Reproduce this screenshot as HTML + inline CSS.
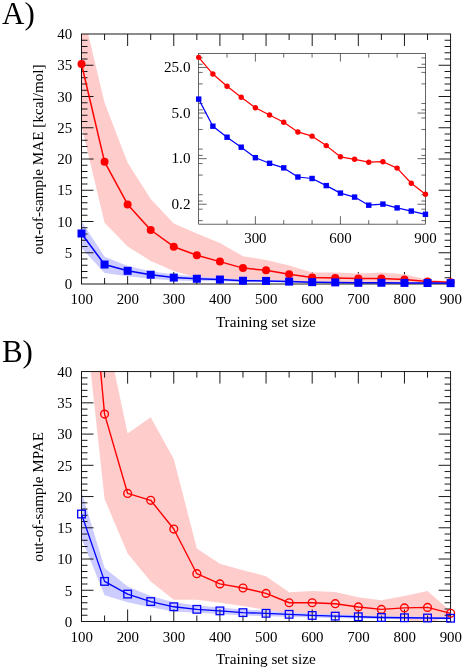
<!DOCTYPE html>
<html><head><meta charset="utf-8"><title>Figure</title>
<style>html,body{margin:0;padding:0;background:#fff;}svg{display:block;will-change:transform;}text{font-family:"Liberation Serif",serif;fill:#000;}</style>
</head><body>
<svg width="464" height="670" viewBox="0 0 464 670">
<rect width="464" height="670" fill="#fff"/>
<defs><clipPath id="ca"><rect x="81.50" y="34.00" width="369.10" height="250.00"/></clipPath>
<clipPath id="cb"><rect x="81.50" y="371.60" width="369.10" height="249.90"/></clipPath></defs>
<text x="2.1" y="24.4" font-size="31">A)</text>
<line x1="104.57" y1="284.00" x2="104.57" y2="278.00" stroke="#000" stroke-width="0.9"/><line x1="104.57" y1="34.00" x2="104.57" y2="40.00" stroke="#000" stroke-width="0.9"/><line x1="127.64" y1="284.00" x2="127.64" y2="272.00" stroke="#000" stroke-width="0.9"/><line x1="127.64" y1="34.00" x2="127.64" y2="46.00" stroke="#000" stroke-width="0.9"/><line x1="150.71" y1="284.00" x2="150.71" y2="278.00" stroke="#000" stroke-width="0.9"/><line x1="150.71" y1="34.00" x2="150.71" y2="40.00" stroke="#000" stroke-width="0.9"/><line x1="173.78" y1="284.00" x2="173.78" y2="272.00" stroke="#000" stroke-width="0.9"/><line x1="173.78" y1="34.00" x2="173.78" y2="46.00" stroke="#000" stroke-width="0.9"/><line x1="196.84" y1="284.00" x2="196.84" y2="278.00" stroke="#000" stroke-width="0.9"/><line x1="196.84" y1="34.00" x2="196.84" y2="40.00" stroke="#000" stroke-width="0.9"/><line x1="219.91" y1="284.00" x2="219.91" y2="272.00" stroke="#000" stroke-width="0.9"/><line x1="219.91" y1="34.00" x2="219.91" y2="46.00" stroke="#000" stroke-width="0.9"/><line x1="242.98" y1="284.00" x2="242.98" y2="278.00" stroke="#000" stroke-width="0.9"/><line x1="242.98" y1="34.00" x2="242.98" y2="40.00" stroke="#000" stroke-width="0.9"/><line x1="266.05" y1="284.00" x2="266.05" y2="272.00" stroke="#000" stroke-width="0.9"/><line x1="266.05" y1="34.00" x2="266.05" y2="46.00" stroke="#000" stroke-width="0.9"/><line x1="289.12" y1="284.00" x2="289.12" y2="278.00" stroke="#000" stroke-width="0.9"/><line x1="289.12" y1="34.00" x2="289.12" y2="40.00" stroke="#000" stroke-width="0.9"/><line x1="312.19" y1="284.00" x2="312.19" y2="272.00" stroke="#000" stroke-width="0.9"/><line x1="312.19" y1="34.00" x2="312.19" y2="46.00" stroke="#000" stroke-width="0.9"/><line x1="335.26" y1="284.00" x2="335.26" y2="278.00" stroke="#000" stroke-width="0.9"/><line x1="335.26" y1="34.00" x2="335.26" y2="40.00" stroke="#000" stroke-width="0.9"/><line x1="358.32" y1="284.00" x2="358.32" y2="272.00" stroke="#000" stroke-width="0.9"/><line x1="358.32" y1="34.00" x2="358.32" y2="46.00" stroke="#000" stroke-width="0.9"/><line x1="381.39" y1="284.00" x2="381.39" y2="278.00" stroke="#000" stroke-width="0.9"/><line x1="381.39" y1="34.00" x2="381.39" y2="40.00" stroke="#000" stroke-width="0.9"/><line x1="404.46" y1="284.00" x2="404.46" y2="272.00" stroke="#000" stroke-width="0.9"/><line x1="404.46" y1="34.00" x2="404.46" y2="46.00" stroke="#000" stroke-width="0.9"/><line x1="427.53" y1="284.00" x2="427.53" y2="278.00" stroke="#000" stroke-width="0.9"/><line x1="427.53" y1="34.00" x2="427.53" y2="40.00" stroke="#000" stroke-width="0.9"/>
<g clip-path="url(#ca)">
<polygon fill="#ffcccc" points="81.50,5.88 104.57,102.75 127.64,162.75 150.71,199.00 173.78,223.38 196.84,233.38 219.91,243.00 242.98,256.19 266.05,260.06 289.12,265.56 312.19,272.38 335.26,272.38 358.32,273.38 381.39,272.38 404.46,274.31 427.53,279.62 450.60,281.19 450.60,283.25 427.53,283.19 404.46,284.00 381.39,284.00 358.32,283.69 335.26,283.50 312.19,282.38 289.12,282.75 266.05,280.56 242.98,280.06 219.91,280.25 196.84,277.44 173.78,271.06 150.71,260.88 127.64,246.50 104.57,222.75 81.50,125.88"/>
<polygon fill="#ccccff" points="81.50,221.19 104.57,256.69 127.64,266.00 150.71,271.19 173.78,274.62 196.84,276.50 219.91,277.75 242.98,279.31 266.05,279.62 289.12,280.56 312.19,281.38 335.26,281.75 358.32,282.25 381.39,282.25 404.46,282.44 427.53,282.62 450.60,282.75 450.60,283.50 427.53,283.44 404.46,283.38 381.39,283.25 358.32,283.38 335.26,283.06 312.19,282.94 289.12,282.62 266.05,282.25 242.98,282.19 219.91,281.31 196.84,281.00 173.78,280.56 150.71,278.81 127.64,276.19 104.57,272.88 81.50,248.06"/>
</g>
<line x1="81.50" y1="277.75" x2="87.50" y2="277.75" stroke="#000" stroke-width="0.9"/><line x1="450.60" y1="277.75" x2="444.60" y2="277.75" stroke="#000" stroke-width="0.9"/><line x1="81.50" y1="271.50" x2="87.50" y2="271.50" stroke="#000" stroke-width="0.9"/><line x1="450.60" y1="271.50" x2="444.60" y2="271.50" stroke="#000" stroke-width="0.9"/><line x1="81.50" y1="265.25" x2="87.50" y2="265.25" stroke="#000" stroke-width="0.9"/><line x1="450.60" y1="265.25" x2="444.60" y2="265.25" stroke="#000" stroke-width="0.9"/><line x1="81.50" y1="259.00" x2="87.50" y2="259.00" stroke="#000" stroke-width="0.9"/><line x1="450.60" y1="259.00" x2="444.60" y2="259.00" stroke="#000" stroke-width="0.9"/><line x1="81.50" y1="252.75" x2="93.50" y2="252.75" stroke="#000" stroke-width="0.9"/><line x1="450.60" y1="252.75" x2="438.60" y2="252.75" stroke="#000" stroke-width="0.9"/><line x1="81.50" y1="246.50" x2="87.50" y2="246.50" stroke="#000" stroke-width="0.9"/><line x1="450.60" y1="246.50" x2="444.60" y2="246.50" stroke="#000" stroke-width="0.9"/><line x1="81.50" y1="240.25" x2="87.50" y2="240.25" stroke="#000" stroke-width="0.9"/><line x1="450.60" y1="240.25" x2="444.60" y2="240.25" stroke="#000" stroke-width="0.9"/><line x1="81.50" y1="234.00" x2="87.50" y2="234.00" stroke="#000" stroke-width="0.9"/><line x1="450.60" y1="234.00" x2="444.60" y2="234.00" stroke="#000" stroke-width="0.9"/><line x1="81.50" y1="227.75" x2="87.50" y2="227.75" stroke="#000" stroke-width="0.9"/><line x1="450.60" y1="227.75" x2="444.60" y2="227.75" stroke="#000" stroke-width="0.9"/><line x1="81.50" y1="221.50" x2="93.50" y2="221.50" stroke="#000" stroke-width="0.9"/><line x1="450.60" y1="221.50" x2="438.60" y2="221.50" stroke="#000" stroke-width="0.9"/><line x1="81.50" y1="215.25" x2="87.50" y2="215.25" stroke="#000" stroke-width="0.9"/><line x1="450.60" y1="215.25" x2="444.60" y2="215.25" stroke="#000" stroke-width="0.9"/><line x1="81.50" y1="209.00" x2="87.50" y2="209.00" stroke="#000" stroke-width="0.9"/><line x1="450.60" y1="209.00" x2="444.60" y2="209.00" stroke="#000" stroke-width="0.9"/><line x1="81.50" y1="202.75" x2="87.50" y2="202.75" stroke="#000" stroke-width="0.9"/><line x1="450.60" y1="202.75" x2="444.60" y2="202.75" stroke="#000" stroke-width="0.9"/><line x1="81.50" y1="196.50" x2="87.50" y2="196.50" stroke="#000" stroke-width="0.9"/><line x1="450.60" y1="196.50" x2="444.60" y2="196.50" stroke="#000" stroke-width="0.9"/><line x1="81.50" y1="190.25" x2="93.50" y2="190.25" stroke="#000" stroke-width="0.9"/><line x1="450.60" y1="190.25" x2="438.60" y2="190.25" stroke="#000" stroke-width="0.9"/><line x1="81.50" y1="184.00" x2="87.50" y2="184.00" stroke="#000" stroke-width="0.9"/><line x1="450.60" y1="184.00" x2="444.60" y2="184.00" stroke="#000" stroke-width="0.9"/><line x1="81.50" y1="177.75" x2="87.50" y2="177.75" stroke="#000" stroke-width="0.9"/><line x1="450.60" y1="177.75" x2="444.60" y2="177.75" stroke="#000" stroke-width="0.9"/><line x1="81.50" y1="171.50" x2="87.50" y2="171.50" stroke="#000" stroke-width="0.9"/><line x1="450.60" y1="171.50" x2="444.60" y2="171.50" stroke="#000" stroke-width="0.9"/><line x1="81.50" y1="165.25" x2="87.50" y2="165.25" stroke="#000" stroke-width="0.9"/><line x1="450.60" y1="165.25" x2="444.60" y2="165.25" stroke="#000" stroke-width="0.9"/><line x1="81.50" y1="159.00" x2="93.50" y2="159.00" stroke="#000" stroke-width="0.9"/><line x1="450.60" y1="159.00" x2="438.60" y2="159.00" stroke="#000" stroke-width="0.9"/><line x1="81.50" y1="152.75" x2="87.50" y2="152.75" stroke="#000" stroke-width="0.9"/><line x1="450.60" y1="152.75" x2="444.60" y2="152.75" stroke="#000" stroke-width="0.9"/><line x1="81.50" y1="146.50" x2="87.50" y2="146.50" stroke="#000" stroke-width="0.9"/><line x1="450.60" y1="146.50" x2="444.60" y2="146.50" stroke="#000" stroke-width="0.9"/><line x1="81.50" y1="140.25" x2="87.50" y2="140.25" stroke="#000" stroke-width="0.9"/><line x1="450.60" y1="140.25" x2="444.60" y2="140.25" stroke="#000" stroke-width="0.9"/><line x1="81.50" y1="134.00" x2="87.50" y2="134.00" stroke="#000" stroke-width="0.9"/><line x1="450.60" y1="134.00" x2="444.60" y2="134.00" stroke="#000" stroke-width="0.9"/><line x1="81.50" y1="127.75" x2="93.50" y2="127.75" stroke="#000" stroke-width="0.9"/><line x1="450.60" y1="127.75" x2="438.60" y2="127.75" stroke="#000" stroke-width="0.9"/><line x1="81.50" y1="121.50" x2="87.50" y2="121.50" stroke="#000" stroke-width="0.9"/><line x1="450.60" y1="121.50" x2="444.60" y2="121.50" stroke="#000" stroke-width="0.9"/><line x1="81.50" y1="115.25" x2="87.50" y2="115.25" stroke="#000" stroke-width="0.9"/><line x1="450.60" y1="115.25" x2="444.60" y2="115.25" stroke="#000" stroke-width="0.9"/><line x1="81.50" y1="109.00" x2="87.50" y2="109.00" stroke="#000" stroke-width="0.9"/><line x1="450.60" y1="109.00" x2="444.60" y2="109.00" stroke="#000" stroke-width="0.9"/><line x1="81.50" y1="102.75" x2="87.50" y2="102.75" stroke="#000" stroke-width="0.9"/><line x1="450.60" y1="102.75" x2="444.60" y2="102.75" stroke="#000" stroke-width="0.9"/><line x1="81.50" y1="96.50" x2="93.50" y2="96.50" stroke="#000" stroke-width="0.9"/><line x1="450.60" y1="96.50" x2="438.60" y2="96.50" stroke="#000" stroke-width="0.9"/><line x1="81.50" y1="90.25" x2="87.50" y2="90.25" stroke="#000" stroke-width="0.9"/><line x1="450.60" y1="90.25" x2="444.60" y2="90.25" stroke="#000" stroke-width="0.9"/><line x1="81.50" y1="84.00" x2="87.50" y2="84.00" stroke="#000" stroke-width="0.9"/><line x1="450.60" y1="84.00" x2="444.60" y2="84.00" stroke="#000" stroke-width="0.9"/><line x1="81.50" y1="77.75" x2="87.50" y2="77.75" stroke="#000" stroke-width="0.9"/><line x1="450.60" y1="77.75" x2="444.60" y2="77.75" stroke="#000" stroke-width="0.9"/><line x1="81.50" y1="71.50" x2="87.50" y2="71.50" stroke="#000" stroke-width="0.9"/><line x1="450.60" y1="71.50" x2="444.60" y2="71.50" stroke="#000" stroke-width="0.9"/><line x1="81.50" y1="65.25" x2="93.50" y2="65.25" stroke="#000" stroke-width="0.9"/><line x1="450.60" y1="65.25" x2="438.60" y2="65.25" stroke="#000" stroke-width="0.9"/><line x1="81.50" y1="59.00" x2="87.50" y2="59.00" stroke="#000" stroke-width="0.9"/><line x1="450.60" y1="59.00" x2="444.60" y2="59.00" stroke="#000" stroke-width="0.9"/><line x1="81.50" y1="52.75" x2="87.50" y2="52.75" stroke="#000" stroke-width="0.9"/><line x1="450.60" y1="52.75" x2="444.60" y2="52.75" stroke="#000" stroke-width="0.9"/><line x1="81.50" y1="46.50" x2="87.50" y2="46.50" stroke="#000" stroke-width="0.9"/><line x1="450.60" y1="46.50" x2="444.60" y2="46.50" stroke="#000" stroke-width="0.9"/><line x1="81.50" y1="40.25" x2="87.50" y2="40.25" stroke="#000" stroke-width="0.9"/><line x1="450.60" y1="40.25" x2="444.60" y2="40.25" stroke="#000" stroke-width="0.9"/><rect x="81.50" y="34.00" width="369.10" height="250.00" fill="none" stroke="#000" stroke-width="0.9"/>
<polyline fill="none" stroke="#ff0000" stroke-width="1.5" stroke-linejoin="round" points="81.50,64.00 104.57,161.81 127.64,204.44 150.71,230.00 173.78,246.69 196.84,255.19 219.91,261.62 242.98,268.12 266.05,270.31 289.12,274.19 312.19,277.39 335.26,277.94 358.32,278.53 381.39,278.44 404.46,279.56 427.53,281.39 450.60,282.23"/>
<circle cx="81.50" cy="64.00" r="4.0" fill="#ff0000"/><circle cx="104.57" cy="161.81" r="4.0" fill="#ff0000"/><circle cx="127.64" cy="204.44" r="4.0" fill="#ff0000"/><circle cx="150.71" cy="230.00" r="4.0" fill="#ff0000"/><circle cx="173.78" cy="246.69" r="4.0" fill="#ff0000"/><circle cx="196.84" cy="255.19" r="4.0" fill="#ff0000"/><circle cx="219.91" cy="261.62" r="4.0" fill="#ff0000"/><circle cx="242.98" cy="268.12" r="4.0" fill="#ff0000"/><circle cx="266.05" cy="270.31" r="4.0" fill="#ff0000"/><circle cx="289.12" cy="274.19" r="4.0" fill="#ff0000"/><circle cx="312.19" cy="277.39" r="4.0" fill="#ff0000"/><circle cx="335.26" cy="277.94" r="4.0" fill="#ff0000"/><circle cx="358.32" cy="278.53" r="4.0" fill="#ff0000"/><circle cx="381.39" cy="278.44" r="4.0" fill="#ff0000"/><circle cx="404.46" cy="279.56" r="4.0" fill="#ff0000"/><circle cx="427.53" cy="281.39" r="4.0" fill="#ff0000"/><circle cx="450.60" cy="282.23" r="4.0" fill="#ff0000"/>
<polyline fill="none" stroke="#0000ff" stroke-width="1.5" stroke-linejoin="round" points="81.50,233.50 104.57,264.56 127.64,270.81 150.71,274.73 173.78,277.59 196.84,278.74 219.91,279.52 242.98,280.76 266.05,280.92 289.12,281.60 312.19,282.16 335.26,282.40 358.32,282.80 381.39,282.75 404.46,282.91 427.53,283.02 450.60,283.13"/>
<rect x="77.50" y="229.50" width="8.0" height="8.0" fill="#0000ff"/><rect x="100.57" y="260.56" width="8.0" height="8.0" fill="#0000ff"/><rect x="123.64" y="266.81" width="8.0" height="8.0" fill="#0000ff"/><rect x="146.71" y="270.73" width="8.0" height="8.0" fill="#0000ff"/><rect x="169.78" y="273.59" width="8.0" height="8.0" fill="#0000ff"/><rect x="192.84" y="274.74" width="8.0" height="8.0" fill="#0000ff"/><rect x="215.91" y="275.52" width="8.0" height="8.0" fill="#0000ff"/><rect x="238.98" y="276.76" width="8.0" height="8.0" fill="#0000ff"/><rect x="262.05" y="276.92" width="8.0" height="8.0" fill="#0000ff"/><rect x="285.12" y="277.60" width="8.0" height="8.0" fill="#0000ff"/><rect x="308.19" y="278.16" width="8.0" height="8.0" fill="#0000ff"/><rect x="331.26" y="278.40" width="8.0" height="8.0" fill="#0000ff"/><rect x="354.32" y="278.80" width="8.0" height="8.0" fill="#0000ff"/><rect x="377.39" y="278.75" width="8.0" height="8.0" fill="#0000ff"/><rect x="400.46" y="278.91" width="8.0" height="8.0" fill="#0000ff"/><rect x="423.53" y="279.02" width="8.0" height="8.0" fill="#0000ff"/><rect x="446.60" y="279.13" width="8.0" height="8.0" fill="#0000ff"/>
<text x="72.2" y="289.00" text-anchor="end" font-size="14.9">0</text><text x="72.2" y="257.75" text-anchor="end" font-size="14.9">5</text><text x="72.2" y="226.50" text-anchor="end" font-size="14.9">10</text><text x="72.2" y="195.25" text-anchor="end" font-size="14.9">15</text><text x="72.2" y="164.00" text-anchor="end" font-size="14.9">20</text><text x="72.2" y="132.75" text-anchor="end" font-size="14.9">25</text><text x="72.2" y="101.50" text-anchor="end" font-size="14.9">30</text><text x="72.2" y="70.25" text-anchor="end" font-size="14.9">35</text><text x="72.2" y="39.00" text-anchor="end" font-size="14.9">40</text><text x="81.70" y="304.20" text-anchor="middle" font-size="14.9">100</text><text x="127.84" y="304.20" text-anchor="middle" font-size="14.9">200</text><text x="173.97" y="304.20" text-anchor="middle" font-size="14.9">300</text><text x="220.11" y="304.20" text-anchor="middle" font-size="14.9">400</text><text x="266.25" y="304.20" text-anchor="middle" font-size="14.9">500</text><text x="312.39" y="304.20" text-anchor="middle" font-size="14.9">600</text><text x="358.52" y="304.20" text-anchor="middle" font-size="14.9">700</text><text x="404.66" y="304.20" text-anchor="middle" font-size="14.9">800</text><text x="450.80" y="304.20" text-anchor="middle" font-size="14.9">900</text><text x="265.8" y="326.60" text-anchor="middle" font-size="15.2">Training set size</text><text transform="translate(43.3,159.30) rotate(-90)" text-anchor="middle" font-size="15.2">out-of-sample MAE [kcal/mol]</text>
<rect x="198.70" y="53.60" width="226.75" height="170.55" fill="#fff"/>
<line x1="198.70" y1="204.24" x2="206.70" y2="204.24" stroke="#000" stroke-width="0.6"/><line x1="425.45" y1="204.24" x2="417.45" y2="204.24" stroke="#000" stroke-width="0.6"/><line x1="198.70" y1="158.65" x2="206.70" y2="158.65" stroke="#000" stroke-width="0.6"/><line x1="425.45" y1="158.65" x2="417.45" y2="158.65" stroke="#000" stroke-width="0.6"/><line x1="198.70" y1="113.06" x2="206.70" y2="113.06" stroke="#000" stroke-width="0.6"/><line x1="425.45" y1="113.06" x2="417.45" y2="113.06" stroke="#000" stroke-width="0.6"/><line x1="198.70" y1="67.46" x2="206.70" y2="67.46" stroke="#000" stroke-width="0.6"/><line x1="425.45" y1="67.46" x2="417.45" y2="67.46" stroke="#000" stroke-width="0.6"/><line x1="198.70" y1="220.67" x2="202.70" y2="220.67" stroke="#000" stroke-width="0.6"/><line x1="425.45" y1="220.67" x2="421.45" y2="220.67" stroke="#000" stroke-width="0.6"/><line x1="198.70" y1="209.18" x2="202.70" y2="209.18" stroke="#000" stroke-width="0.6"/><line x1="425.45" y1="209.18" x2="421.45" y2="209.18" stroke="#000" stroke-width="0.6"/><line x1="198.70" y1="201.03" x2="202.70" y2="201.03" stroke="#000" stroke-width="0.6"/><line x1="425.45" y1="201.03" x2="421.45" y2="201.03" stroke="#000" stroke-width="0.6"/><line x1="198.70" y1="194.71" x2="202.70" y2="194.71" stroke="#000" stroke-width="0.6"/><line x1="425.45" y1="194.71" x2="421.45" y2="194.71" stroke="#000" stroke-width="0.6"/><line x1="198.70" y1="175.08" x2="202.70" y2="175.08" stroke="#000" stroke-width="0.6"/><line x1="425.45" y1="175.08" x2="421.45" y2="175.08" stroke="#000" stroke-width="0.6"/><line x1="198.70" y1="163.59" x2="202.70" y2="163.59" stroke="#000" stroke-width="0.6"/><line x1="425.45" y1="163.59" x2="421.45" y2="163.59" stroke="#000" stroke-width="0.6"/><line x1="198.70" y1="155.44" x2="202.70" y2="155.44" stroke="#000" stroke-width="0.6"/><line x1="425.45" y1="155.44" x2="421.45" y2="155.44" stroke="#000" stroke-width="0.6"/><line x1="198.70" y1="149.12" x2="202.70" y2="149.12" stroke="#000" stroke-width="0.6"/><line x1="425.45" y1="149.12" x2="421.45" y2="149.12" stroke="#000" stroke-width="0.6"/><line x1="198.70" y1="129.48" x2="202.70" y2="129.48" stroke="#000" stroke-width="0.6"/><line x1="425.45" y1="129.48" x2="421.45" y2="129.48" stroke="#000" stroke-width="0.6"/><line x1="198.70" y1="118.00" x2="202.70" y2="118.00" stroke="#000" stroke-width="0.6"/><line x1="425.45" y1="118.00" x2="421.45" y2="118.00" stroke="#000" stroke-width="0.6"/><line x1="198.70" y1="109.85" x2="202.70" y2="109.85" stroke="#000" stroke-width="0.6"/><line x1="425.45" y1="109.85" x2="421.45" y2="109.85" stroke="#000" stroke-width="0.6"/><line x1="198.70" y1="103.52" x2="202.70" y2="103.52" stroke="#000" stroke-width="0.6"/><line x1="425.45" y1="103.52" x2="421.45" y2="103.52" stroke="#000" stroke-width="0.6"/><line x1="198.70" y1="83.89" x2="202.70" y2="83.89" stroke="#000" stroke-width="0.6"/><line x1="425.45" y1="83.89" x2="421.45" y2="83.89" stroke="#000" stroke-width="0.6"/><line x1="198.70" y1="72.40" x2="202.70" y2="72.40" stroke="#000" stroke-width="0.6"/><line x1="425.45" y1="72.40" x2="421.45" y2="72.40" stroke="#000" stroke-width="0.6"/><line x1="198.70" y1="64.25" x2="202.70" y2="64.25" stroke="#000" stroke-width="0.6"/><line x1="425.45" y1="64.25" x2="421.45" y2="64.25" stroke="#000" stroke-width="0.6"/><line x1="198.70" y1="57.93" x2="202.70" y2="57.93" stroke="#000" stroke-width="0.6"/><line x1="425.45" y1="57.93" x2="421.45" y2="57.93" stroke="#000" stroke-width="0.6"/><line x1="227.04" y1="224.15" x2="227.04" y2="220.15" stroke="#000" stroke-width="0.6"/><line x1="227.04" y1="53.60" x2="227.04" y2="57.60" stroke="#000" stroke-width="0.6"/><line x1="255.39" y1="224.15" x2="255.39" y2="216.15" stroke="#000" stroke-width="0.6"/><line x1="255.39" y1="53.60" x2="255.39" y2="61.60" stroke="#000" stroke-width="0.6"/><line x1="283.73" y1="224.15" x2="283.73" y2="220.15" stroke="#000" stroke-width="0.6"/><line x1="283.73" y1="53.60" x2="283.73" y2="57.60" stroke="#000" stroke-width="0.6"/><line x1="312.07" y1="224.15" x2="312.07" y2="220.15" stroke="#000" stroke-width="0.6"/><line x1="312.07" y1="53.60" x2="312.07" y2="57.60" stroke="#000" stroke-width="0.6"/><line x1="340.42" y1="224.15" x2="340.42" y2="216.15" stroke="#000" stroke-width="0.6"/><line x1="340.42" y1="53.60" x2="340.42" y2="61.60" stroke="#000" stroke-width="0.6"/><line x1="368.76" y1="224.15" x2="368.76" y2="220.15" stroke="#000" stroke-width="0.6"/><line x1="368.76" y1="53.60" x2="368.76" y2="57.60" stroke="#000" stroke-width="0.6"/><line x1="397.11" y1="224.15" x2="397.11" y2="220.15" stroke="#000" stroke-width="0.6"/><line x1="397.11" y1="53.60" x2="397.11" y2="57.60" stroke="#000" stroke-width="0.6"/><rect x="198.70" y="53.60" width="226.75" height="170.55" fill="none" stroke="#000" stroke-width="0.6"/>
<polyline fill="none" stroke="#ff0000" stroke-width="1.2" stroke-linejoin="round" points="198.70,57.33 212.87,74.02 227.04,86.20 241.22,97.20 255.39,107.69 269.56,115.03 283.73,122.20 297.90,131.94 312.07,136.15 326.25,145.60 340.42,156.80 354.59,159.29 368.76,162.19 382.93,161.71 397.11,168.08 411.28,183.22 425.45,194.23"/>
<circle cx="198.70" cy="57.33" r="2.7" fill="#ff0000"/><circle cx="212.87" cy="74.02" r="2.7" fill="#ff0000"/><circle cx="227.04" cy="86.20" r="2.7" fill="#ff0000"/><circle cx="241.22" cy="97.20" r="2.7" fill="#ff0000"/><circle cx="255.39" cy="107.69" r="2.7" fill="#ff0000"/><circle cx="269.56" cy="115.03" r="2.7" fill="#ff0000"/><circle cx="283.73" cy="122.20" r="2.7" fill="#ff0000"/><circle cx="297.90" cy="131.94" r="2.7" fill="#ff0000"/><circle cx="312.07" cy="136.15" r="2.7" fill="#ff0000"/><circle cx="326.25" cy="145.60" r="2.7" fill="#ff0000"/><circle cx="340.42" cy="156.80" r="2.7" fill="#ff0000"/><circle cx="354.59" cy="159.29" r="2.7" fill="#ff0000"/><circle cx="368.76" cy="162.19" r="2.7" fill="#ff0000"/><circle cx="382.93" cy="161.71" r="2.7" fill="#ff0000"/><circle cx="397.11" cy="168.08" r="2.7" fill="#ff0000"/><circle cx="411.28" cy="183.22" r="2.7" fill="#ff0000"/><circle cx="425.45" cy="194.23" r="2.7" fill="#ff0000"/>
<polyline fill="none" stroke="#0000ff" stroke-width="1.2" stroke-linejoin="round" points="198.70,99.10 212.87,126.20 227.04,137.21 241.22,147.20 255.39,157.70 269.56,163.31 283.73,167.88 297.90,177.01 312.07,178.50 326.25,185.60 340.42,193.10 354.59,197.10 368.76,205.19 382.93,204.11 397.11,207.90 411.28,211.09 425.45,214.30"/>
<rect x="196.00" y="96.40" width="5.4" height="5.4" fill="#0000ff"/><rect x="210.17" y="123.50" width="5.4" height="5.4" fill="#0000ff"/><rect x="224.34" y="134.51" width="5.4" height="5.4" fill="#0000ff"/><rect x="238.52" y="144.50" width="5.4" height="5.4" fill="#0000ff"/><rect x="252.69" y="155.00" width="5.4" height="5.4" fill="#0000ff"/><rect x="266.86" y="160.61" width="5.4" height="5.4" fill="#0000ff"/><rect x="281.03" y="165.18" width="5.4" height="5.4" fill="#0000ff"/><rect x="295.20" y="174.31" width="5.4" height="5.4" fill="#0000ff"/><rect x="309.38" y="175.80" width="5.4" height="5.4" fill="#0000ff"/><rect x="323.55" y="182.90" width="5.4" height="5.4" fill="#0000ff"/><rect x="337.72" y="190.40" width="5.4" height="5.4" fill="#0000ff"/><rect x="351.89" y="194.40" width="5.4" height="5.4" fill="#0000ff"/><rect x="366.06" y="202.49" width="5.4" height="5.4" fill="#0000ff"/><rect x="380.23" y="201.41" width="5.4" height="5.4" fill="#0000ff"/><rect x="394.41" y="205.20" width="5.4" height="5.4" fill="#0000ff"/><rect x="408.58" y="208.39" width="5.4" height="5.4" fill="#0000ff"/><rect x="422.75" y="211.60" width="5.4" height="5.4" fill="#0000ff"/>
<text x="190.5" y="72.16" text-anchor="end" font-size="15.2">25.0</text>
<text x="190.5" y="117.76" text-anchor="end" font-size="15.2">5.0</text>
<text x="190.5" y="163.35" text-anchor="end" font-size="15.2">1.0</text>
<text x="190.5" y="208.94" text-anchor="end" font-size="15.2">0.2</text>
<text x="255.39" y="243.4" text-anchor="middle" font-size="14.9">300</text>
<text x="340.42" y="243.4" text-anchor="middle" font-size="14.9">600</text>
<text x="425.45" y="243.4" text-anchor="middle" font-size="14.9">900</text>
<text x="1.9" y="361.7" font-size="31">B)</text>
<g clip-path="url(#cb)">
<polygon fill="#ffcccc" points="81.50,27.99 104.57,324.74 127.64,433.45 150.71,417.21 173.78,459.06 196.84,548.40 219.91,563.71 242.98,570.27 266.05,576.21 289.12,592.14 312.19,590.89 335.26,592.01 358.32,597.26 381.39,600.26 404.46,596.07 427.53,590.89 450.60,611.32 450.60,615.25 427.53,624.00 404.46,619.69 381.39,618.50 358.32,616.63 335.26,615.38 312.19,614.63 289.12,613.13 266.05,609.88 242.98,605.88 219.91,602.76 196.84,599.76 173.78,599.63 150.71,581.52 127.64,553.40 104.57,499.05 81.50,286.63"/>
<polygon fill="#ccccff" points="81.50,491.55 104.57,567.90 127.64,586.51 150.71,595.89 173.78,602.13 196.84,605.57 219.91,607.57 242.98,609.50 266.05,610.69 289.12,612.13 312.19,613.38 335.26,614.32 358.32,615.25 381.39,616.00 404.46,616.38 427.53,616.75 450.60,617.13 450.60,619.38 427.53,619.19 404.46,619.00 381.39,618.88 358.32,618.38 335.26,617.94 312.19,617.44 289.12,616.63 266.05,616.13 242.98,615.38 219.91,614.00 196.84,612.75 173.78,611.50 150.71,607.32 127.64,602.13 104.57,595.26 81.50,538.41"/>
</g>
<line x1="81.50" y1="615.25" x2="87.50" y2="615.25" stroke="#000" stroke-width="0.9"/><line x1="450.60" y1="615.25" x2="444.60" y2="615.25" stroke="#000" stroke-width="0.9"/><line x1="81.50" y1="609.00" x2="87.50" y2="609.00" stroke="#000" stroke-width="0.9"/><line x1="450.60" y1="609.00" x2="444.60" y2="609.00" stroke="#000" stroke-width="0.9"/><line x1="81.50" y1="602.76" x2="87.50" y2="602.76" stroke="#000" stroke-width="0.9"/><line x1="450.60" y1="602.76" x2="444.60" y2="602.76" stroke="#000" stroke-width="0.9"/><line x1="81.50" y1="596.51" x2="87.50" y2="596.51" stroke="#000" stroke-width="0.9"/><line x1="450.60" y1="596.51" x2="444.60" y2="596.51" stroke="#000" stroke-width="0.9"/><line x1="81.50" y1="590.26" x2="93.50" y2="590.26" stroke="#000" stroke-width="0.9"/><line x1="450.60" y1="590.26" x2="438.60" y2="590.26" stroke="#000" stroke-width="0.9"/><line x1="81.50" y1="584.01" x2="87.50" y2="584.01" stroke="#000" stroke-width="0.9"/><line x1="450.60" y1="584.01" x2="444.60" y2="584.01" stroke="#000" stroke-width="0.9"/><line x1="81.50" y1="577.77" x2="87.50" y2="577.77" stroke="#000" stroke-width="0.9"/><line x1="450.60" y1="577.77" x2="444.60" y2="577.77" stroke="#000" stroke-width="0.9"/><line x1="81.50" y1="571.52" x2="87.50" y2="571.52" stroke="#000" stroke-width="0.9"/><line x1="450.60" y1="571.52" x2="444.60" y2="571.52" stroke="#000" stroke-width="0.9"/><line x1="81.50" y1="565.27" x2="87.50" y2="565.27" stroke="#000" stroke-width="0.9"/><line x1="450.60" y1="565.27" x2="444.60" y2="565.27" stroke="#000" stroke-width="0.9"/><line x1="81.50" y1="559.02" x2="93.50" y2="559.02" stroke="#000" stroke-width="0.9"/><line x1="450.60" y1="559.02" x2="438.60" y2="559.02" stroke="#000" stroke-width="0.9"/><line x1="81.50" y1="552.78" x2="87.50" y2="552.78" stroke="#000" stroke-width="0.9"/><line x1="450.60" y1="552.78" x2="444.60" y2="552.78" stroke="#000" stroke-width="0.9"/><line x1="81.50" y1="546.53" x2="87.50" y2="546.53" stroke="#000" stroke-width="0.9"/><line x1="450.60" y1="546.53" x2="444.60" y2="546.53" stroke="#000" stroke-width="0.9"/><line x1="81.50" y1="540.28" x2="87.50" y2="540.28" stroke="#000" stroke-width="0.9"/><line x1="450.60" y1="540.28" x2="444.60" y2="540.28" stroke="#000" stroke-width="0.9"/><line x1="81.50" y1="534.03" x2="87.50" y2="534.03" stroke="#000" stroke-width="0.9"/><line x1="450.60" y1="534.03" x2="444.60" y2="534.03" stroke="#000" stroke-width="0.9"/><line x1="81.50" y1="527.79" x2="93.50" y2="527.79" stroke="#000" stroke-width="0.9"/><line x1="450.60" y1="527.79" x2="438.60" y2="527.79" stroke="#000" stroke-width="0.9"/><line x1="81.50" y1="521.54" x2="87.50" y2="521.54" stroke="#000" stroke-width="0.9"/><line x1="450.60" y1="521.54" x2="444.60" y2="521.54" stroke="#000" stroke-width="0.9"/><line x1="81.50" y1="515.29" x2="87.50" y2="515.29" stroke="#000" stroke-width="0.9"/><line x1="450.60" y1="515.29" x2="444.60" y2="515.29" stroke="#000" stroke-width="0.9"/><line x1="81.50" y1="509.05" x2="87.50" y2="509.05" stroke="#000" stroke-width="0.9"/><line x1="450.60" y1="509.05" x2="444.60" y2="509.05" stroke="#000" stroke-width="0.9"/><line x1="81.50" y1="502.80" x2="87.50" y2="502.80" stroke="#000" stroke-width="0.9"/><line x1="450.60" y1="502.80" x2="444.60" y2="502.80" stroke="#000" stroke-width="0.9"/><line x1="81.50" y1="496.55" x2="93.50" y2="496.55" stroke="#000" stroke-width="0.9"/><line x1="450.60" y1="496.55" x2="438.60" y2="496.55" stroke="#000" stroke-width="0.9"/><line x1="81.50" y1="490.30" x2="87.50" y2="490.30" stroke="#000" stroke-width="0.9"/><line x1="450.60" y1="490.30" x2="444.60" y2="490.30" stroke="#000" stroke-width="0.9"/><line x1="81.50" y1="484.06" x2="87.50" y2="484.06" stroke="#000" stroke-width="0.9"/><line x1="450.60" y1="484.06" x2="444.60" y2="484.06" stroke="#000" stroke-width="0.9"/><line x1="81.50" y1="477.81" x2="87.50" y2="477.81" stroke="#000" stroke-width="0.9"/><line x1="450.60" y1="477.81" x2="444.60" y2="477.81" stroke="#000" stroke-width="0.9"/><line x1="81.50" y1="471.56" x2="87.50" y2="471.56" stroke="#000" stroke-width="0.9"/><line x1="450.60" y1="471.56" x2="444.60" y2="471.56" stroke="#000" stroke-width="0.9"/><line x1="81.50" y1="465.31" x2="93.50" y2="465.31" stroke="#000" stroke-width="0.9"/><line x1="450.60" y1="465.31" x2="438.60" y2="465.31" stroke="#000" stroke-width="0.9"/><line x1="81.50" y1="459.06" x2="87.50" y2="459.06" stroke="#000" stroke-width="0.9"/><line x1="450.60" y1="459.06" x2="444.60" y2="459.06" stroke="#000" stroke-width="0.9"/><line x1="81.50" y1="452.82" x2="87.50" y2="452.82" stroke="#000" stroke-width="0.9"/><line x1="450.60" y1="452.82" x2="444.60" y2="452.82" stroke="#000" stroke-width="0.9"/><line x1="81.50" y1="446.57" x2="87.50" y2="446.57" stroke="#000" stroke-width="0.9"/><line x1="450.60" y1="446.57" x2="444.60" y2="446.57" stroke="#000" stroke-width="0.9"/><line x1="81.50" y1="440.32" x2="87.50" y2="440.32" stroke="#000" stroke-width="0.9"/><line x1="450.60" y1="440.32" x2="444.60" y2="440.32" stroke="#000" stroke-width="0.9"/><line x1="81.50" y1="434.08" x2="93.50" y2="434.08" stroke="#000" stroke-width="0.9"/><line x1="450.60" y1="434.08" x2="438.60" y2="434.08" stroke="#000" stroke-width="0.9"/><line x1="81.50" y1="427.83" x2="87.50" y2="427.83" stroke="#000" stroke-width="0.9"/><line x1="450.60" y1="427.83" x2="444.60" y2="427.83" stroke="#000" stroke-width="0.9"/><line x1="81.50" y1="421.58" x2="87.50" y2="421.58" stroke="#000" stroke-width="0.9"/><line x1="450.60" y1="421.58" x2="444.60" y2="421.58" stroke="#000" stroke-width="0.9"/><line x1="81.50" y1="415.33" x2="87.50" y2="415.33" stroke="#000" stroke-width="0.9"/><line x1="450.60" y1="415.33" x2="444.60" y2="415.33" stroke="#000" stroke-width="0.9"/><line x1="81.50" y1="409.09" x2="87.50" y2="409.09" stroke="#000" stroke-width="0.9"/><line x1="450.60" y1="409.09" x2="444.60" y2="409.09" stroke="#000" stroke-width="0.9"/><line x1="81.50" y1="402.84" x2="93.50" y2="402.84" stroke="#000" stroke-width="0.9"/><line x1="450.60" y1="402.84" x2="438.60" y2="402.84" stroke="#000" stroke-width="0.9"/><line x1="81.50" y1="396.59" x2="87.50" y2="396.59" stroke="#000" stroke-width="0.9"/><line x1="450.60" y1="396.59" x2="444.60" y2="396.59" stroke="#000" stroke-width="0.9"/><line x1="81.50" y1="390.34" x2="87.50" y2="390.34" stroke="#000" stroke-width="0.9"/><line x1="450.60" y1="390.34" x2="444.60" y2="390.34" stroke="#000" stroke-width="0.9"/><line x1="81.50" y1="384.10" x2="87.50" y2="384.10" stroke="#000" stroke-width="0.9"/><line x1="450.60" y1="384.10" x2="444.60" y2="384.10" stroke="#000" stroke-width="0.9"/><line x1="81.50" y1="377.85" x2="87.50" y2="377.85" stroke="#000" stroke-width="0.9"/><line x1="450.60" y1="377.85" x2="444.60" y2="377.85" stroke="#000" stroke-width="0.9"/><line x1="104.57" y1="621.50" x2="104.57" y2="615.50" stroke="#000" stroke-width="0.9"/><line x1="104.57" y1="371.60" x2="104.57" y2="377.60" stroke="#000" stroke-width="0.9"/><line x1="127.64" y1="621.50" x2="127.64" y2="609.50" stroke="#000" stroke-width="0.9"/><line x1="127.64" y1="371.60" x2="127.64" y2="383.60" stroke="#000" stroke-width="0.9"/><line x1="150.71" y1="621.50" x2="150.71" y2="615.50" stroke="#000" stroke-width="0.9"/><line x1="150.71" y1="371.60" x2="150.71" y2="377.60" stroke="#000" stroke-width="0.9"/><line x1="173.78" y1="621.50" x2="173.78" y2="609.50" stroke="#000" stroke-width="0.9"/><line x1="173.78" y1="371.60" x2="173.78" y2="383.60" stroke="#000" stroke-width="0.9"/><line x1="196.84" y1="621.50" x2="196.84" y2="615.50" stroke="#000" stroke-width="0.9"/><line x1="196.84" y1="371.60" x2="196.84" y2="377.60" stroke="#000" stroke-width="0.9"/><line x1="219.91" y1="621.50" x2="219.91" y2="609.50" stroke="#000" stroke-width="0.9"/><line x1="219.91" y1="371.60" x2="219.91" y2="383.60" stroke="#000" stroke-width="0.9"/><line x1="242.98" y1="621.50" x2="242.98" y2="615.50" stroke="#000" stroke-width="0.9"/><line x1="242.98" y1="371.60" x2="242.98" y2="377.60" stroke="#000" stroke-width="0.9"/><line x1="266.05" y1="621.50" x2="266.05" y2="609.50" stroke="#000" stroke-width="0.9"/><line x1="266.05" y1="371.60" x2="266.05" y2="383.60" stroke="#000" stroke-width="0.9"/><line x1="289.12" y1="621.50" x2="289.12" y2="615.50" stroke="#000" stroke-width="0.9"/><line x1="289.12" y1="371.60" x2="289.12" y2="377.60" stroke="#000" stroke-width="0.9"/><line x1="312.19" y1="621.50" x2="312.19" y2="609.50" stroke="#000" stroke-width="0.9"/><line x1="312.19" y1="371.60" x2="312.19" y2="383.60" stroke="#000" stroke-width="0.9"/><line x1="335.26" y1="621.50" x2="335.26" y2="615.50" stroke="#000" stroke-width="0.9"/><line x1="335.26" y1="371.60" x2="335.26" y2="377.60" stroke="#000" stroke-width="0.9"/><line x1="358.32" y1="621.50" x2="358.32" y2="609.50" stroke="#000" stroke-width="0.9"/><line x1="358.32" y1="371.60" x2="358.32" y2="383.60" stroke="#000" stroke-width="0.9"/><line x1="381.39" y1="621.50" x2="381.39" y2="615.50" stroke="#000" stroke-width="0.9"/><line x1="381.39" y1="371.60" x2="381.39" y2="377.60" stroke="#000" stroke-width="0.9"/><line x1="404.46" y1="621.50" x2="404.46" y2="609.50" stroke="#000" stroke-width="0.9"/><line x1="404.46" y1="371.60" x2="404.46" y2="383.60" stroke="#000" stroke-width="0.9"/><line x1="427.53" y1="621.50" x2="427.53" y2="615.50" stroke="#000" stroke-width="0.9"/><line x1="427.53" y1="371.60" x2="427.53" y2="377.60" stroke="#000" stroke-width="0.9"/><rect x="81.50" y="371.60" width="369.10" height="249.90" fill="none" stroke="#000" stroke-width="0.9"/>
<g clip-path="url(#cb)"><polyline fill="none" stroke="#ff0000" stroke-width="1.4" stroke-linejoin="round" points="81.50,163.56 104.57,414.08 127.64,493.43 150.71,500.30 173.78,529.04 196.84,573.71 219.91,583.89 242.98,588.01 266.05,593.39 289.12,602.76 312.19,602.76 335.26,603.69 358.32,606.94 381.39,609.38 404.46,607.88 427.53,607.38 450.60,613.32"/></g>
<circle cx="104.57" cy="414.08" r="3.9" fill="none" stroke="#ff0000" stroke-width="1.4"/><circle cx="127.64" cy="493.43" r="3.9" fill="none" stroke="#ff0000" stroke-width="1.4"/><circle cx="150.71" cy="500.30" r="3.9" fill="none" stroke="#ff0000" stroke-width="1.4"/><circle cx="173.78" cy="529.04" r="3.9" fill="none" stroke="#ff0000" stroke-width="1.4"/><circle cx="196.84" cy="573.71" r="3.9" fill="none" stroke="#ff0000" stroke-width="1.4"/><circle cx="219.91" cy="583.89" r="3.9" fill="none" stroke="#ff0000" stroke-width="1.4"/><circle cx="242.98" cy="588.01" r="3.9" fill="none" stroke="#ff0000" stroke-width="1.4"/><circle cx="266.05" cy="593.39" r="3.9" fill="none" stroke="#ff0000" stroke-width="1.4"/><circle cx="289.12" cy="602.76" r="3.9" fill="none" stroke="#ff0000" stroke-width="1.4"/><circle cx="312.19" cy="602.76" r="3.9" fill="none" stroke="#ff0000" stroke-width="1.4"/><circle cx="335.26" cy="603.69" r="3.9" fill="none" stroke="#ff0000" stroke-width="1.4"/><circle cx="358.32" cy="606.94" r="3.9" fill="none" stroke="#ff0000" stroke-width="1.4"/><circle cx="381.39" cy="609.38" r="3.9" fill="none" stroke="#ff0000" stroke-width="1.4"/><circle cx="404.46" cy="607.88" r="3.9" fill="none" stroke="#ff0000" stroke-width="1.4"/><circle cx="427.53" cy="607.38" r="3.9" fill="none" stroke="#ff0000" stroke-width="1.4"/><circle cx="450.60" cy="613.32" r="3.9" fill="none" stroke="#ff0000" stroke-width="1.4"/>
<polyline fill="none" stroke="#0000ff" stroke-width="1.3" stroke-linejoin="round" points="81.50,514.04 104.57,581.39 127.64,594.07 150.71,601.57 173.78,606.76 196.84,609.32 219.91,610.88 242.98,612.63 266.05,613.32 289.12,614.32 312.19,615.44 335.26,616.13 358.32,616.75 381.39,617.50 404.46,617.75 427.53,618.00 450.60,618.25"/>
<rect x="77.70" y="510.24" width="7.6" height="7.6" fill="none" stroke="#0000ff" stroke-width="1.3"/><rect x="100.77" y="577.59" width="7.6" height="7.6" fill="none" stroke="#0000ff" stroke-width="1.3"/><rect x="123.84" y="590.27" width="7.6" height="7.6" fill="none" stroke="#0000ff" stroke-width="1.3"/><rect x="146.91" y="597.77" width="7.6" height="7.6" fill="none" stroke="#0000ff" stroke-width="1.3"/><rect x="169.97" y="602.96" width="7.6" height="7.6" fill="none" stroke="#0000ff" stroke-width="1.3"/><rect x="193.04" y="605.52" width="7.6" height="7.6" fill="none" stroke="#0000ff" stroke-width="1.3"/><rect x="216.11" y="607.08" width="7.6" height="7.6" fill="none" stroke="#0000ff" stroke-width="1.3"/><rect x="239.18" y="608.83" width="7.6" height="7.6" fill="none" stroke="#0000ff" stroke-width="1.3"/><rect x="262.25" y="609.52" width="7.6" height="7.6" fill="none" stroke="#0000ff" stroke-width="1.3"/><rect x="285.32" y="610.52" width="7.6" height="7.6" fill="none" stroke="#0000ff" stroke-width="1.3"/><rect x="308.39" y="611.64" width="7.6" height="7.6" fill="none" stroke="#0000ff" stroke-width="1.3"/><rect x="331.46" y="612.33" width="7.6" height="7.6" fill="none" stroke="#0000ff" stroke-width="1.3"/><rect x="354.52" y="612.95" width="7.6" height="7.6" fill="none" stroke="#0000ff" stroke-width="1.3"/><rect x="377.59" y="613.70" width="7.6" height="7.6" fill="none" stroke="#0000ff" stroke-width="1.3"/><rect x="400.66" y="613.95" width="7.6" height="7.6" fill="none" stroke="#0000ff" stroke-width="1.3"/><rect x="423.73" y="614.20" width="7.6" height="7.6" fill="none" stroke="#0000ff" stroke-width="1.3"/><rect x="446.80" y="614.45" width="7.6" height="7.6" fill="none" stroke="#0000ff" stroke-width="1.3"/>
<text x="72.2" y="626.90" text-anchor="end" font-size="14.9">0</text><text x="72.2" y="595.66" text-anchor="end" font-size="14.9">5</text><text x="72.2" y="564.42" text-anchor="end" font-size="14.9">10</text><text x="72.2" y="533.19" text-anchor="end" font-size="14.9">15</text><text x="72.2" y="501.95" text-anchor="end" font-size="14.9">20</text><text x="72.2" y="470.71" text-anchor="end" font-size="14.9">25</text><text x="72.2" y="439.48" text-anchor="end" font-size="14.9">30</text><text x="72.2" y="408.24" text-anchor="end" font-size="14.9">35</text><text x="72.2" y="377.00" text-anchor="end" font-size="14.9">40</text><text x="81.70" y="641.70" text-anchor="middle" font-size="14.9">100</text><text x="127.84" y="641.70" text-anchor="middle" font-size="14.9">200</text><text x="173.97" y="641.70" text-anchor="middle" font-size="14.9">300</text><text x="220.11" y="641.70" text-anchor="middle" font-size="14.9">400</text><text x="266.25" y="641.70" text-anchor="middle" font-size="14.9">500</text><text x="312.39" y="641.70" text-anchor="middle" font-size="14.9">600</text><text x="358.52" y="641.70" text-anchor="middle" font-size="14.9">700</text><text x="404.66" y="641.70" text-anchor="middle" font-size="14.9">800</text><text x="450.80" y="641.70" text-anchor="middle" font-size="14.9">900</text><text x="265.8" y="663.60" text-anchor="middle" font-size="15.2">Training set size</text><text transform="translate(43.3,496.80) rotate(-90)" text-anchor="middle" font-size="15.2">out-of-sample MPAE</text>
</svg></body></html>
